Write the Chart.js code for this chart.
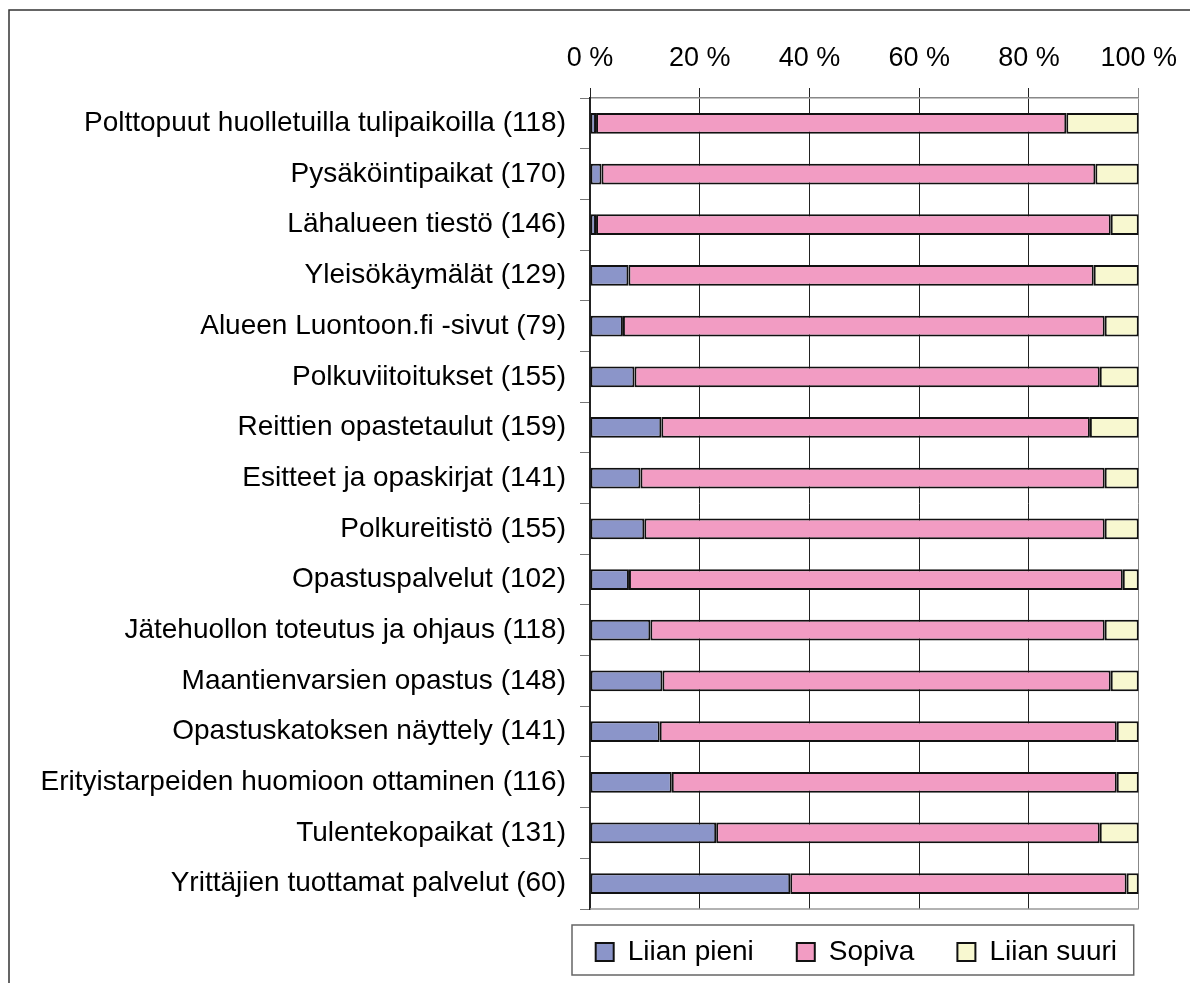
<!DOCTYPE html>
<html>
<head>
<meta charset="utf-8">
<script src="https://cdn.jsdelivr.net/npm/chart.js@4/dist/chart.umd.min.js"></script>
<style>
  html, body { margin: 0; padding: 0; background: #fff; overflow: hidden; }
  #wrap { width: 1190px; height: 983px; position: relative; }
</style>
</head>
<body>
<div id="wrap"><canvas id="chart"></canvas></div>
<script>
var categories = [
  'Polttopuut huolletuilla tulipaikoilla (118)',
  'Pysäköintipaikat (170)',
  'Lähalueen tiestö (146)',
  'Yleisökäymälät (129)',
  'Alueen Luontoon.fi -sivut (79)',
  'Polkuviitoitukset (155)',
  'Reittien opastetaulut (159)',
  'Esitteet ja opaskirjat (141)',
  'Polkureitistö (155)',
  'Opastuspalvelut (102)',
  'Jätehuollon toteutus ja ohjaus (118)',
  'Maantienvarsien opastus (148)',
  'Opastuskatoksen näyttely (141)',
  'Erityistarpeiden huomioon ottaminen (116)',
  'Tulentekopaikat (131)',
  'Yrittäjien tuottamat palvelut (60)'
];
var seriesNames = ['Liian pieni', 'Sopiva', 'Liian suuri'];
var liianPieni = [1.1, 2.1, 1.1, 7.0, 6.0, 8.1, 13.0, 9.2, 9.9, 7.1, 11.0, 13.2, 12.7, 14.9, 23.0, 36.5];
var sopiva = [85.7, 90.0, 93.8, 84.8, 87.8, 84.8, 78.1, 84.6, 83.9, 90.0, 82.8, 81.7, 83.3, 81.1, 69.9, 61.3];
var liianSuuri = [13.2, 7.9, 5.1, 8.2, 6.2, 7.1, 8.9, 6.2, 6.2, 2.9, 6.2, 5.1, 4.0, 4.0, 7.1, 2.2];
var xTicks = [0, 20, 40, 60, 80, 100];

var FONT = "'Liberation Sans', Arial, sans-serif";

// frame around the whole picture, bottom line of the plot, legend box
var framePlugin = {
  id: 'frame',
  beforeDraw: function(chart) {
    var ctx = chart.ctx;
    ctx.save();
    ctx.strokeStyle = '#333';
    ctx.lineWidth = 1.5;
    ctx.beginPath();
    ctx.moveTo(9, chart.height);
    ctx.lineTo(9, 10);
    ctx.lineTo(chart.width, 10);
    ctx.stroke();
    ctx.restore();
  },
  afterDraw: function(chart) {
    var ctx = chart.ctx;
    var a = chart.chartArea;
    ctx.save();
    ctx.strokeStyle = '#999';
    ctx.lineWidth = 1.5;
    ctx.beginPath();
    ctx.moveTo(a.left, a.bottom);
    ctx.lineTo(a.right, a.bottom);
    ctx.stroke();
    ctx.strokeStyle = '#666';
    ctx.strokeRect(a.left - 18, a.bottom + 16, a.right - a.left + 13, 50);
    ctx.restore();
  },
  afterLayout: function(chart) {
    // legend items sit inside the framed box under the plot
    var lg = chart.legend;
    var a = chart.chartArea;
    var shift = (a.left + a.right) / 2 - 8 - (lg.left + lg.right) / 2;
    lg.left += shift;
    lg.right += shift;
    lg.top -= 14;
  }
};

function makeSet(i, data, color) {
  return {
    label: seriesNames[i],
    data: data,
    backgroundColor: color,
    borderColor: '#111',
    borderWidth: 2,
    borderSkipped: false,
    barPercentage: 0.41,
    categoryPercentage: 1.0
  };
}

var chart = new Chart(document.getElementById('chart').getContext('2d'), {
  type: 'bar',
  data: {
    labels: categories,
    datasets: [
      makeSet(0, liianPieni, '#8b95c9'),
      makeSet(1, sopiva, '#f29cc3'),
      makeSet(2, liianSuuri, '#f8f8d0')
    ]
  },
  options: {
    indexAxis: 'y',
    responsive: true,
    maintainAspectRatio: false,
    animation: false,
    layout: { padding: { top: 10, left: 10, right: 48, bottom: 0 } },
    plugins: {
      tooltip: { enabled: false },
      legend: {
        position: 'bottom',
        maxHeight: 74,
        labels: {
          color: '#000',
          font: { family: FONT, size: 28 },
          boxWidth: 18,
          boxHeight: 18,
          padding: 43
        }
      }
    },
    scales: {
      x: {
        position: 'top',
        stacked: true,
        min: 0,
        max: 100,
        afterBuildTicks: function(scale) {
          scale.ticks = xTicks.map(function(v) { return { value: v }; });
        },
        afterFit: function(scale) { scale.height = 88; },
        ticks: {
          color: '#000',
          font: { family: FONT, size: 27 },
          padding: 13,
          maxRotation: 0,
          callback: function(v) { return v + ' %'; }
        },
        grid: {
          color: function(c) { return c.tick && c.tick.value === 100 ? '#888' : '#222'; },
          lineWidth: 1,
          tickLength: 10
        },
        border: { color: '#888', width: 1.5 }
      },
      y: {
        stacked: true,
        afterFit: function(scale) { scale.width = 580; },
        ticks: {
          color: '#000',
          font: { family: FONT, size: 28 },
          padding: 14,
          autoSkip: false
        },
        grid: {
          offset: true,
          drawOnChartArea: false,
          color: '#777',
          tickLength: 10
        },
        border: { color: '#222', width: 2 }
      }
    }
  },
  plugins: [framePlugin]
});
</script>
</body>
</html>
